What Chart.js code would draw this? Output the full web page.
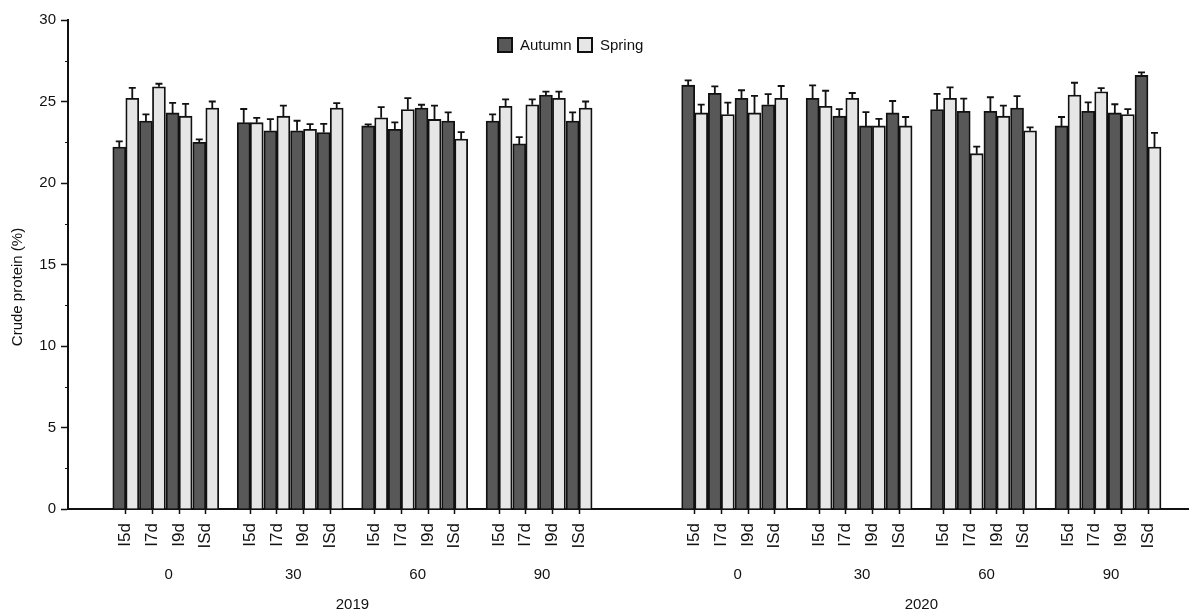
<!DOCTYPE html>
<html>
<head>
<meta charset="utf-8">
<script src="https://cdn.jsdelivr.net/npm/chart.js@4"></script>
<style>
  html, body { margin: 0; padding: 0; background: #fff; }
  #wrap { width: 1192px; height: 615px; }
</style>
</head>
<body>
<div id="wrap"><canvas id="cp"></canvas></div>
<script>
const years = ['2019', '2020'];
const doses = ['0', '30', '60', '90'];
const treatments = ['I5d', 'I7d', 'I9d', 'ISd'];
const seriesNames = ['Autumn', 'Spring'];

// values run year -> dose -> treatment (I5d, I7d, I9d, ISd)
const autumnMean = [
    22.2, 23.8, 24.3, 22.5,   23.7, 23.2, 23.2, 23.1,   23.5, 23.3, 24.6, 23.8,   23.8, 22.4, 25.4, 23.8,
    26.0, 25.5, 25.2, 24.8,   25.2, 24.1, 23.5, 24.3,   24.5, 24.4, 24.4, 24.6,   23.5, 24.4, 24.3, 26.6
];
const autumnErr = [
    0.35, 0.41, 0.61, 0.18,   0.84, 0.72, 0.62, 0.53,   0.10, 0.42, 0.20, 0.53,   0.41, 0.41, 0.21, 0.53,
    0.29, 0.43, 0.49, 0.65,   0.79, 0.43, 0.85, 0.73,   0.97, 0.78, 0.86, 0.73,   0.55, 0.55, 0.53, 0.19
];
const springMean = [
    25.2, 25.9, 24.1, 24.6,   23.7, 24.1, 23.3, 24.6,   24.0, 24.5, 23.9, 22.7,   24.7, 24.8, 25.2, 24.6,
    24.3, 24.2, 24.3, 25.2,   24.7, 25.2, 23.5, 23.5,   25.2, 21.8, 24.1, 23.2,   25.4, 25.6, 24.2, 22.2
];
const springErr = [
    0.63, 0.19, 0.75, 0.40,   0.29, 0.65, 0.31, 0.30,   0.65, 0.71, 0.85, 0.42,   0.43, 0.33, 0.41, 0.40,
    0.51, 0.73, 1.04, 0.75,   0.96, 0.32, 0.43, 0.55,   0.67, 0.43, 0.65, 0.21,   0.75, 0.22, 0.33, 0.87
];

const yTicksMajor = [0, 5, 10, 15, 20, 25, 30];
const colorsFill = ['#585858', '#e6e6e6'];

Chart.defaults.font.family = "'Liberation Sans', Arial, sans-serif";
Chart.defaults.color = '#111';

//-----------------------------------------------------------------------------
// category slots: blank slots give the gaps between bars, groups and years
//-----------------------------------------------------------------------------
const LEAD = 6, ITEM_GAP = 2, GROUP_GAP = 4, YEAR_GAP = 12, TAIL = 4;
const slotLabels = [];
const slotIndex = [];           // -1 for blank slots, else index in data arrays
const groupSlots = [];          // {label, first, last}
const yearSlots = [];
function pad(n){
    for (let k = 0; k < n; k ++){ slotLabels.push(''); slotIndex.push(-1); }
}
pad(LEAD);
let di = 0;
years.forEach((yr, y) => {
    if (y > 0) pad(YEAR_GAP);
    const yFirst = slotLabels.length;
    doses.forEach((d, g) => {
        if (g > 0) pad(GROUP_GAP);
        const gFirst = slotLabels.length;
        treatments.forEach((t, i) => {
            if (i > 0) pad(ITEM_GAP);
            slotLabels.push(t);
            slotIndex.push(di ++);
        });
        groupSlots.push({label: d, first: gFirst, last: slotLabels.length - 1});
    });
    yearSlots.push({label: yr, first: yFirst, last: slotLabels.length - 1});
});
pad(TAIL);

function toSlots(arr){
    return slotIndex.map(k => k < 0 ? null : arr[k]);
}
const means = [autumnMean, springMean];
const errs = [autumnErr, springErr];

//-----------------------------------------------------------------------------
// error bars, minor ticks, group / year labels, legend, y title
//-----------------------------------------------------------------------------
const decorPlugin = {
    id: 'decor',
    afterDatasetsDraw(chart){
        const ctx = chart.ctx;
        const ys = chart.scales.y;
        ctx.save();
        ctx.strokeStyle = '#111';
        ctx.lineWidth = 1.8;
        for (let d = 0; d < 2; d ++){
            const meta = chart.getDatasetMeta(d);
            meta.data.forEach((bar, s) => {
                const k = slotIndex[s];
                if (k < 0) return;
                const top = ys.getPixelForValue(means[d][k]);
                const end = ys.getPixelForValue(means[d][k] + errs[d][k]);
                ctx.beginPath();
                ctx.moveTo(bar.x, top);
                ctx.lineTo(bar.x, end);
                ctx.moveTo(bar.x - 3.5, end);
                ctx.lineTo(bar.x + 3.5, end);
                ctx.stroke();
            });
        }
        ctx.restore();
    },
    afterDraw(chart){
        const ctx = chart.ctx;
        const xs = chart.scales.x;
        const ys = chart.scales.y;
        const area = chart.chartArea;
        ctx.save();
        // minor y ticks
        ctx.strokeStyle = '#111';
        ctx.lineWidth = 1;
        for (let v = 2.5; v < 30; v += 5){
            const py = Math.round(ys.getPixelForValue(v)) + 0.5;
            ctx.beginPath();
            ctx.moveTo(area.left - 3, py);
            ctx.lineTo(area.left, py);
            ctx.stroke();
        }
        ctx.fillStyle = '#111';
        ctx.font = "15px 'Liberation Sans', Arial, sans-serif";
        ctx.textAlign = 'center';
        ctx.textBaseline = 'middle';
        groupSlots.forEach(g => {
            const cx = (xs.getPixelForValue(g.first) + xs.getPixelForValue(g.last)) / 2;
            ctx.fillText(g.label, cx + 3, 575);
        });
        yearSlots.forEach(g => {
            const cx = (xs.getPixelForValue(g.first) + xs.getPixelForValue(g.last)) / 2;
            ctx.fillText(g.label, cx, 605);
        });
        // y title
        ctx.save();
        ctx.translate(18, 287);
        ctx.rotate(-Math.PI / 2);
        ctx.fillText('Crude protein (%)', 0, 0);
        ctx.restore();
        // legend
        ctx.textAlign = 'left';
        let lx = 498;
        seriesNames.forEach((name, i) => {
            ctx.fillStyle = colorsFill[i];
            ctx.fillRect(lx, 38, 14, 14);
            ctx.strokeStyle = '#111';
            ctx.lineWidth = 2;
            ctx.strokeRect(lx, 38, 14, 14);
            ctx.fillStyle = '#111';
            ctx.fillText(name, lx + 22, 46);
            lx += 80;
        });
        ctx.restore();
    }
};

new Chart(document.getElementById('cp'), {
    type: 'bar',
    data: {
        labels: slotLabels,
        datasets: seriesNames.map((name, i) => ({
            label: name,
            data: toSlots(means[i]),
            backgroundColor: colorsFill[i],
            borderColor: '#111',
            borderWidth: 1.8,
            barThickness: 13,
            borderSkipped: 'bottom'
        }))
    },
    options: {
        responsive: true,
        maintainAspectRatio: false,
        animation: false,
        layout: { padding: { top: 20, right: 4, left: 0, bottom: 0 } },
        plugins: {
            legend: { display: false },
            tooltip: { enabled: false }
        },
        scales: {
            x: {
                offset: true,
                afterFit: (scale) => {
                    scale.height = 106;
                    scale.paddingLeft = 0;
                    scale.paddingRight = 0;
                },
                border: { display: true, color: '#111', width: 2 },
                grid: {
                    offset: false,
                    drawOnChartArea: false,
                    drawTicks: true,
                    tickLength: 5,
                    tickWidth: 1.5,
                    tickColor: (c) => slotIndex[c.index] < 0 ? 'rgba(0,0,0,0)' : '#111'
                },
                ticks: {
                    autoSkip: false,
                    maxRotation: 90,
                    minRotation: 90,
                    padding: 9,
                    font: { size: 17 },
                    callback: (v, i) => slotLabels[i]
                }
            },
            y: {
                min: 0,
                max: 30,
                afterFit: (scale) => { scale.width = 68; },
                border: { display: true, color: '#111', width: 2 },
                grid: {
                    drawOnChartArea: false,
                    tickLength: 7,
                    tickWidth: 1.5,
                    tickColor: '#111'
                },
                afterBuildTicks: (scale) => { scale.ticks = yTicksMajor.map(v => ({value: v})); },
                ticks: {
                    padding: 5,
                    font: { size: 15 }
                }
            }
        }
    },
    plugins: [decorPlugin]
});
</script>
</body>
</html>
